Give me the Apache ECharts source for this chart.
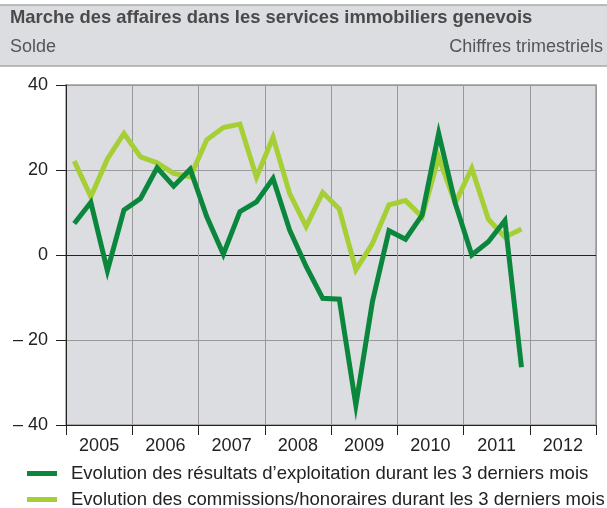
<!DOCTYPE html>
<html>
<head>
<meta charset="utf-8">
<script src="https://cdn.jsdelivr.net/npm/echarts@6/dist/echarts.min.js"></script>
<style>
  html, body { margin: 0; padding: 0; background: #fff; }
  #chart { width: 607px; height: 508px; }
</style>
</head>
<body>
<div id="chart"></div>
<script>
// years shown on the x axis, each one split into 4 quarters
const years = ['2005', '2006', '2007', '2008', '2009', '2010', '2011', '2012'];
const quarters = years.flatMap((y) => ['T1', 'T2', 'T3', 'T4'].map((q) => y + ' ' + q));

const yTicks = [-40, -20, 0, 20, 40];

// solde, 2005 T1 .. 2011 T4
const resultats = [
  7.4, 12.4, -3.7, 10.6,
  13.3, 20.5, 16.2, 20.2,
  9.0, 0.2, 10.2, 12.5,
  18.0, 5.9, -2.7, -10.2,
  -10.4, -35.3, -11.0, 5.7,
  3.7, 9.4, 28.6, 12.2,
  0.0, 3.1, 8.1, -26.4,
];
const commissions = [
  22.1, 13.7, 22.6, 28.6,
  23.1, 21.7, 19.2, 18.4,
  27.1, 30.0, 30.8, 18.3,
  27.7, 14.5, 6.7, 14.7,
  10.8, -3.5, 2.7, 11.8,
  12.8, 9.0, 23.0, 12.2,
  20.4, 8.4, 4.2, 6.1,
];

const names = [
  'Evolution des résultats d\u2019exploitation durant les 3 derniers mois',
  'Evolution des commissions/honoraires durant les 3 derniers mois',
];
const colors = ['#0a873d', '#a5cf34'];

const font = '"Liberation Sans", Arial, sans-serif';
const chart = echarts.init(document.getElementById('chart'));

// one legend block per series, stacked
const legendFor = (name, top) => ({
  left: 22, top,
  itemWidth: 30, itemHeight: 5,
  icon: 'rect',
  data: [name],
  selectedMode: false,
  textStyle: { fontSize: 18.5, color: '#222', padding: [0, 0, 0, 9], fontFamily: font },
});

chart.setOption({
  animation: false,
  textStyle: { fontFamily: font },
  graphic: [
    {
      type: 'rect',
      z: -10,
      shape: { x: -3, y: 5, width: 613, height: 61 },
      style: { fill: '#dcdde0', stroke: '#a9a9ab', lineWidth: 1.5 },
    },
  ],
  title: [
    {
      text: 'Marche des affaires dans les services immobiliers genevois',
      left: 10, top: 9, padding: 0,
      textStyle: { fontSize: 18.4, fontWeight: 'bold', color: '#4a4a4a', fontFamily: font },
    },
    {
      text: 'Solde',
      left: 10, top: 38, padding: 0,
      textStyle: { fontSize: 18, fontWeight: 'normal', color: '#555', fontFamily: font },
    },
    {
      text: 'Chiffres trimestriels',
      right: 4, top: 38, padding: 0,
      textStyle: { fontSize: 18, fontWeight: 'normal', color: '#555', fontFamily: font },
    },
  ],
  grid: {
    left: 66, right: 11, top: 85, bottom: 83,
    show: true,
    backgroundColor: '#dcdde0',
    borderColor: '#9a9a9c',
    borderWidth: 1.5,
  },
  legend: [legendFor(names[0], 459), legendFor(names[1], 485)],
  xAxis: [
    {
      type: 'category',
      data: years,
      boundaryGap: true,
      axisLine: { onZero: false, lineStyle: { color: '#222', width: 1 } },
      axisTick: { show: true, length: 10, interval: 0, lineStyle: { color: '#222' } },
      axisLabel: { fontSize: 18, color: '#222', margin: 12, interval: 0 },
      splitLine: { show: true, interval: 0, lineStyle: { color: '#9a9a9c', width: 1 } },
    },
    {
      type: 'category',
      data: quarters,
      boundaryGap: true,
      show: false,
    },
  ],
  yAxis: {
    type: 'value',
    min: yTicks[0],
    max: yTicks[yTicks.length - 1],
    interval: 20,
    axisLine: { show: true, lineStyle: { color: '#222', width: 1 } },
    axisTick: { show: true, length: 10, lineStyle: { color: '#222' } },
    axisLabel: {
      fontSize: 18, color: '#222', margin: 18,
      formatter: (v) => (v < 0 ? '\u2013 ' + Math.abs(v) : String(v)),
    },
    splitLine: {
      lineStyle: { color: ['#9a9a9c', '#9a9a9c', '#222', '#9a9a9c', '#9a9a9c'], width: 1 },
    },
  },
  series: [
    {
      name: names[0],
      type: 'line',
      xAxisIndex: 1,
      data: resultats,
      symbol: 'none',
      lineStyle: { width: 5, color: colors[0], join: 'miter' },
      itemStyle: { color: colors[0] },
      z: 3,
    },
    {
      name: names[1],
      type: 'line',
      xAxisIndex: 1,
      data: commissions,
      symbol: 'none',
      lineStyle: { width: 5, color: colors[1], join: 'miter' },
      itemStyle: { color: colors[1] },
      z: 2,
    },
  ],
});
</script>
</body>
</html>
